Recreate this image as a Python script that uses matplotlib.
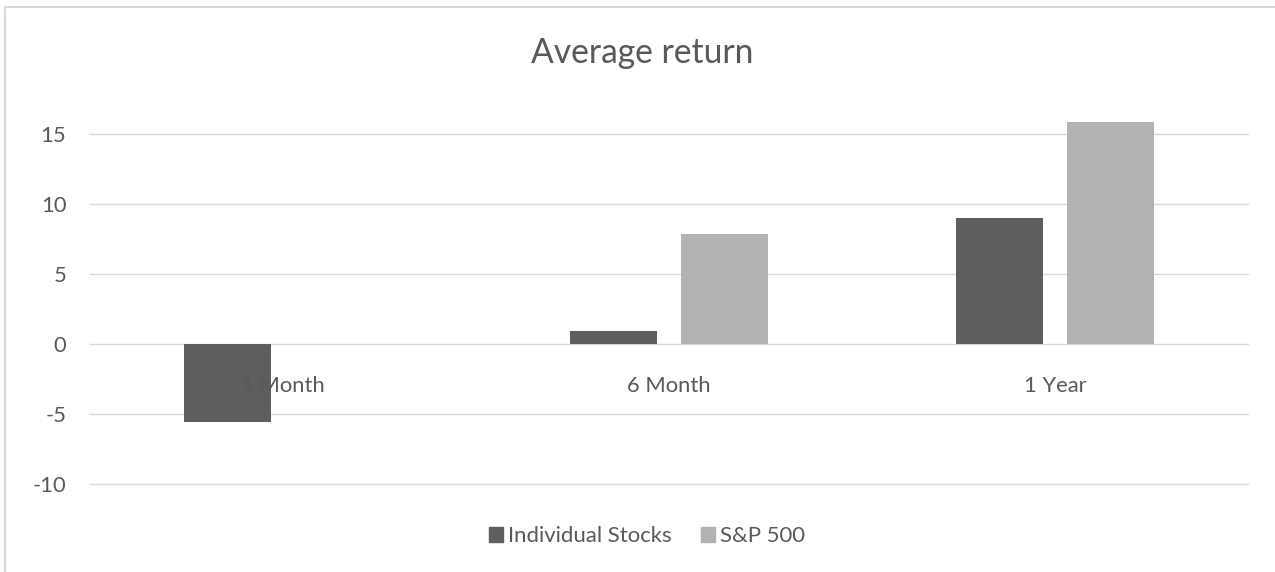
import matplotlib
matplotlib.use("Agg")
import matplotlib.pyplot as plt
import matplotlib.patches as mpatches
import numpy as np

plt.rcParams['font.family'] = ['Lato', 'DejaVu Sans']

categories = ["1 Month", "6 Month", "1 Year"]
individual = [-5.6, 0.9, 9.0]
sp500 = [0.0, 7.85, 15.85]
yticks = [-10, -5, 0, 5, 10, 15]
title = "Average return"
series_names = ["Individual Stocks", "S&P 500"]

W, H = 1275, 572
fig = plt.figure(figsize=(W / 100, H / 100), dpi=100)
fig.patch.set_facecolor("white")

ymin, ymax = -10, 16.5
px_per_unit = 14.0
y0 = 344.0
top_px = y0 - ymax * px_per_unit
bot_px = y0 - ymin * px_per_unit
left_px, right_px = 90, 1248
ax = fig.add_axes([left_px / W, 1 - bot_px / H, (right_px - left_px) / W, (bot_px - top_px) / H])

TXT = "#595959"
GRID = "#d9d9d9"
C1 = "#5e5e5e"
C2 = "#b2b2b2"

x = np.arange(len(categories))
bw = 0.2254
off = 0.1425
ax.bar(x - off, individual, bw, color=C1, zorder=2, label=series_names[0])
ax.bar(x + off, sp500, bw, color=C2, zorder=2, label=series_names[1])

ax.set_xlim(-0.5, len(categories) - 0.5)
ax.set_ylim(ymin, ymax)
ax.set_yticks(yticks)
ax.set_yticklabels([str(v) for v in yticks])
for yv in yticks:
    ax.axhline(yv, color=GRID, lw=1.0, zorder=1, clip_on=False)
ax.set_xticks([])
ax.tick_params(axis='y', length=0, pad=17, labelsize=15.8, labelcolor=TXT)
for s in ax.spines.values():
    s.set_visible(False)
ax.patch.set_alpha(0)

for i, c in enumerate(categories):
    ax.annotate(c, xy=(i, 0), xytext=(0, -34.6), textcoords='offset points',
                ha='center', va='baseline', fontsize=15.8, color=TXT, zorder=5)

fig.text(642 / W, 1 - 63 / H, title, ha='center', va='baseline', fontsize=24.2, color=TXT)

handles = [mpatches.Patch(color=C1, label=series_names[0]),
           mpatches.Patch(color=C2, label=series_names[1])]
fig.legend(handles=handles, loc='center', bbox_to_anchor=(647 / W, 1 - 536 / H), ncol=2,
           frameon=False, fontsize=15.9, labelcolor=TXT, handlelength=0.64, handleheight=0.64,
           handletextpad=0.25, columnspacing=1.3, borderpad=0, borderaxespad=0)

border = mpatches.Rectangle((5 / W, -0.1), 1.2, 1 - 7 / H + 0.1, transform=fig.transFigure,
                            fill=False, edgecolor=GRID, lw=1.5)
fig.patches.append(border)

fig.savefig("out.png", dpi=100)
